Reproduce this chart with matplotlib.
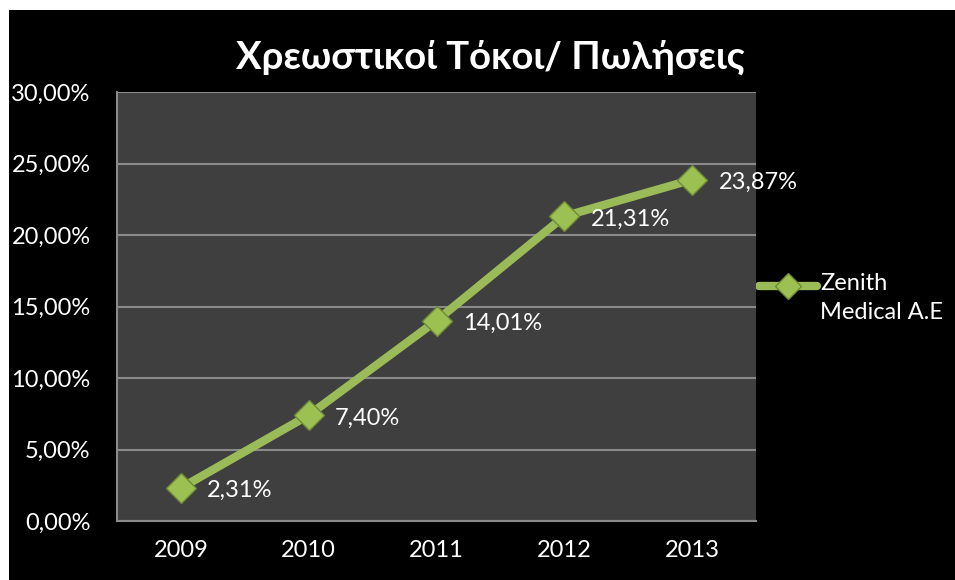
import matplotlib
matplotlib.use("Agg")
import matplotlib.pyplot as plt
from matplotlib.patches import Rectangle
from matplotlib.ticker import FuncFormatter, MultipleLocator
from matplotlib.lines import Line2D

# Interest expense / sales ratio per year
years = ["2009", "2010", "2011", "2012", "2013"]
ratio = [2.31, 7.40, 14.01, 21.31, 23.87]
series_name = "Zenith\nMedical A.E"
title = "Χρεωστικοί Τόκοι/ Πωλήσεις"

plt.rcParams["font.family"] = ["Lato", "Open Sans", "DejaVu Sans"]

green = "#9bbb59"
marker_face = "#9cc052"
marker_edge = "#6e8c36"
fig = plt.figure(figsize=(9.55, 5.8), dpi=100, facecolor="white")
# black chart area (white strip left and top)
fig.patches.append(Rectangle((9 / 955, 0), 1, 1 - 10 / 580, transform=fig.transFigure,
                             facecolor="black", edgecolor="none", zorder=-1))

ax = fig.add_axes([117 / 955, 1 - 521 / 580, 639 / 955, 429 / 580])
ax.set_zorder(2)
ax.set_facecolor("#3f3f3f")

x = range(len(years))
ax.plot(x, ratio, color=green, lw=6, solid_capstyle="round", zorder=3)
ax.plot(x, ratio, ls="none", marker="D", ms=15, mfc=marker_face, mec=marker_edge, mew=1, zorder=4)

def pct(v, pos=None):
    return f"{v:.2f}%".replace(".", ",")

for xi, v in zip(x, ratio):
    ax.annotate(pct(v), (xi, v), xytext=(19, -2), textcoords="offset points",
                color="white", fontsize=17, va="center", ha="left", zorder=5)

ax.set_xlim(-0.5, 4.5)
ax.set_ylim(0, 30)
ax.set_xticks(list(x))
ax.set_xticklabels(years)
ax.yaxis.set_major_locator(MultipleLocator(5))
ax.yaxis.set_major_formatter(FuncFormatter(pct))
ax.grid(axis="y", color="#8a8a8a", lw=1.5)
ax.set_axisbelow(True)
ax.tick_params(colors="white", labelsize=17, length=0)
ax.tick_params(axis="y", pad=19)
ax.tick_params(axis="x", pad=14)
for s in ["top", "right"]:
    ax.spines[s].set_visible(False)
for s in ["left", "bottom"]:
    ax.spines[s].set_color("#8a8a8a")
    ax.spines[s].set_linewidth(1.5)

fig.text(490 / 955, 1 - 57 / 580, title, color="white", fontsize=27.5, fontweight="bold",
         ha="center", va="center")

# legend: line sample beside the first line of the series name
ly = 1 - 286 / 580
fig.add_artist(Line2D([759 / 955, 817 / 955], [ly, ly], color=green, lw=6,
                      solid_capstyle="round", transform=fig.transFigure))
fig.add_artist(Line2D([788 / 955], [ly], ls="none", marker="D", ms=13, mfc=marker_face,
                      mec=marker_edge, transform=fig.transFigure))
fig.text(820 / 955, 1 - 273 / 580, series_name, color="white", fontsize=17, ha="left", va="top",
         linespacing=1.45, transform=fig.transFigure)

fig.savefig("out.png", dpi=100, facecolor=fig.get_facecolor())
